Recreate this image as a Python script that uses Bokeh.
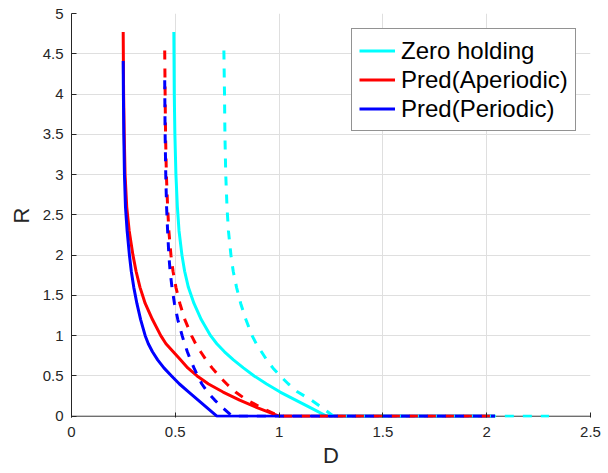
from bokeh.plotting import figure
from bokeh.models import Range1d, FixedTicker, CustomJSTickFormatter, Legend, LegendItem, Span
from bokeh.embed import file_html
from bokeh.resources import INLINE

# ---- data ----
x_ticks = [0, 0.5, 1, 1.5, 2, 2.5]
y_ticks = [0, 0.5, 1, 1.5, 2, 2.5, 3, 3.5, 4, 4.5, 5]

# Zero holding (solid)
zh_r = [4.77, 4.0, 3.5, 3.0, 2.6, 2.3, 2.0, 1.8, 1.6, 1.4, 1.2, 1.0, 0.9, 0.8, 0.7, 0.6, 0.5, 0.4, 0.3, 0.2, 0.1, 0.0, 0.0]
zh_d = [0.493, 0.495, 0.498, 0.503, 0.51, 0.518, 0.532, 0.545, 0.563, 0.59, 0.625, 0.67, 0.70, 0.737, 0.78, 0.828, 0.88, 0.94, 1.005, 1.08, 1.155, 1.23, 2.04]
# Zero holding (dashed)
zh2_r = [4.54, 4.0, 3.5, 3.0, 2.6, 2.3, 2.0, 1.8, 1.6, 1.4, 1.2, 1.0, 0.9, 0.8, 0.7, 0.6, 0.5, 0.4, 0.3, 0.2, 0.1, 0.0, 0.0]
zh2_d = [0.734, 0.737, 0.739, 0.743, 0.749, 0.756, 0.768, 0.779, 0.795, 0.815, 0.84, 0.87, 0.89, 0.915, 0.94, 0.97, 1.005, 1.045, 1.09, 1.155, 1.21, 1.262, 2.30]
# Pred(Aperiodic) (solid)
pa_r = [4.77, 4.0, 3.5, 3.0, 2.6, 2.3, 2.0, 1.8, 1.6, 1.4, 1.2, 1.0, 0.9, 0.8, 0.7, 0.6, 0.5, 0.4, 0.3, 0.2, 0.1, 0.0, 0.0]
pa_d = [0.249, 0.251, 0.254, 0.258, 0.266, 0.278, 0.296, 0.311, 0.33, 0.355, 0.39, 0.43, 0.455, 0.49, 0.525, 0.56, 0.605, 0.66, 0.73, 0.81, 0.90, 1.0, 2.04]
# Pred(Aperiodic) (dashed)
pa2_r = [4.54, 4.0, 3.5, 3.0, 2.6, 2.3, 2.0, 1.8, 1.6, 1.4, 1.2, 1.0, 0.9, 0.8, 0.7, 0.6, 0.5, 0.4, 0.3, 0.2, 0.1, 0.0, 0.0]
pa2_d = [0.449, 0.451, 0.453, 0.457, 0.463, 0.469, 0.479, 0.489, 0.503, 0.522, 0.546, 0.578, 0.598, 0.622, 0.648, 0.677, 0.71, 0.748, 0.79, 0.845, 0.92, 1.0, 2.04]
# Pred(Periodic) (solid)
pp_r = [4.41, 4.0, 3.5, 3.0, 2.6, 2.3, 2.0, 1.8, 1.6, 1.4, 1.2, 1.0, 0.9, 0.8, 0.7, 0.6, 0.5, 0.4, 0.3, 0.2, 0.1, 0.0, 0.0]
pp_d = [0.249, 0.25, 0.252, 0.255, 0.26, 0.268, 0.279, 0.288, 0.30, 0.315, 0.333, 0.355, 0.37, 0.39, 0.415, 0.445, 0.482, 0.52, 0.565, 0.61, 0.655, 0.70, 2.04]
# Pred(Periodic) (dashed)
pp2_r = [4.17, 3.8, 3.5, 3.0, 2.6, 2.3, 2.0, 1.8, 1.6, 1.4, 1.2, 1.0, 0.9, 0.8, 0.7, 0.6, 0.5, 0.4, 0.3, 0.2, 0.1, 0.0, 0.0]
pp2_d = [0.449, 0.45, 0.451, 0.454, 0.458, 0.463, 0.469, 0.475, 0.484, 0.496, 0.512, 0.533, 0.545, 0.558, 0.573, 0.59, 0.608, 0.628, 0.655, 0.69, 0.73, 0.775, 2.04]

labels = ["Zero holding", "Pred(Aperiodic)", "Pred(Periodic)"]
colors = ["#00ffff", "#ff0000", "#0000ff"]

FONT = "Liberation Sans"
AX = "#262626"

p = figure(width=608, height=473, output_backend="svg", toolbar_location=None,
           x_range=Range1d(0, 2.5), y_range=Range1d(-0.016, 5),
           min_border_left=71, min_border_right=18, min_border_top=13, min_border_bottom=56)
p.outline_line_color = None
p.background_fill_color = "white"
p.border_fill_color = "white"

for ax in (p.xaxis[0], p.yaxis[0]):
    ax.major_tick_in = 5
    ax.major_tick_out = 0
    ax.minor_tick_in = 0
    ax.minor_tick_out = 0
    ax.major_tick_line_color = AX
    ax.axis_line_color = AX
    ax.major_label_text_font = FONT
    ax.major_label_text_font_size = "15px"
    ax.major_label_text_color = AX
    ax.formatter = CustomJSTickFormatter(code="return tick.toString();")
    ax.axis_label_text_font = FONT
    ax.axis_label_text_font_size = "22px"
    ax.axis_label_text_font_style = "normal"
    ax.axis_label_text_color = AX

p.xaxis.ticker = FixedTicker(ticks=x_ticks)
p.yaxis.ticker = FixedTicker(ticks=y_ticks)
p.xaxis.axis_line_color = None
p.xaxis.major_label_standoff = 9
p.yaxis.major_label_standoff = 8

p.yaxis.axis_label = "R"
p.yaxis.axis_label_standoff = 6
p.xaxis.axis_label = "D"
p.xaxis.axis_label_standoff = 3

p.xgrid.grid_line_color = "#dfdfdf"
p.ygrid.grid_line_color = "#dfdfdf"

p.add_layout(Span(location=0, dimension="width", line_color="#404040", line_width=1, level="underlay"))

solid = [(zh_d, zh_r), (pa_d, pa_r), (pp_d, pp_r)]
dashed = [(zh2_d, zh2_r), (pa2_d, pa2_r), (pp2_d, pp2_r)]

items = []
for (d, r), c, lab in zip(solid, colors, labels):
    rr = p.line(d, r, line_color=c, line_width=3, line_join="round")
    items.append(LegendItem(label=lab, renderers=[rr]))
for (d, r), c in zip(dashed, colors):
    p.line(d, r, line_color=c, line_width=3, line_dash="9 9")

legend = Legend(items=items, location=(280, 286))
legend.label_text_font = FONT
legend.label_text_font_size = "24px"
legend.label_text_color = "black"
legend.glyph_width = 36
legend.glyph_height = 29
legend.label_height = 29
legend.label_standoff = 6
legend.spacing = 0
legend.padding = 7
legend.margin = 0
legend.border_line_color = AX
legend.border_line_width = 1
legend.background_fill_alpha = 1
p.add_layout(legend)

open("out.html", "w").write(file_html(p, INLINE))
